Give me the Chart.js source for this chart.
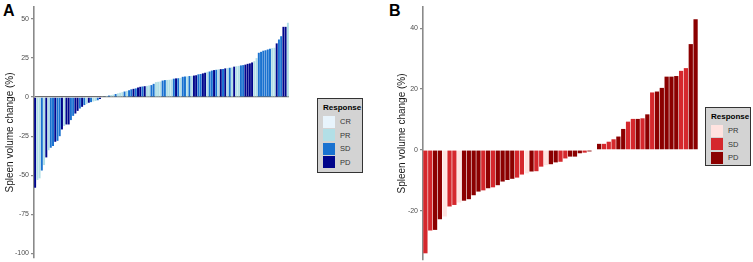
<!DOCTYPE html>
<html>
<head>
<meta charset="utf-8">
<script src="https://cdn.jsdelivr.net/npm/chart.js@4.4.0/dist/chart.umd.min.js"></script>
<style>
  body { margin: 0; background: #fff; width: 753px; height: 262px; position: relative; overflow: hidden;
         font-family: "Liberation Sans", Arial, sans-serif; }
  canvas { position: absolute; top: 0; }
  #chartA { left: 0; }
  #chartB { left: 392px; }
  .tag { position: absolute; font-weight: bold; font-size: 16px; line-height: 16px; color: #000; }
  .legend { position: absolute; background: #d3d3d3; border: 1px solid #333; box-sizing: border-box; padding: 4px 4px 0 5px; }
  .legend .ttl { font-weight: bold; font-size: 8px; line-height: 10px; color: #000; margin-bottom: 2px; }
  .legend .item { height: 13.5px; display: flex; align-items: center; font-size: 7.5px; color: #333; }
  .legend .key { width: 12px; height: 12px; margin-right: 5px; }
</style>
</head>
<body>
<div class="tag" style="left:3px;top:3px;">A</div>
<div class="tag" style="left:389px;top:3px;">B</div>
<canvas id="chartA" width="292" height="262"></canvas>
<canvas id="chartB" width="310" height="262"></canvas>
<div class="legend" id="legendA" style="left:317px;top:98px;width:46px;height:75px;"></div>
<div class="legend" id="legendB" style="left:705px;top:107px;width:46px;height:59px;"></div>
<script>
// ---- panel A data (sorted waterfall) ----
var valuesA = [
  -58, -53, -52, -47, -43.5, -38.6, -34, -32.4, -31.3, -28.6,
  -28, -25, -20.7, -18.5, -17.5, -17.5, -14.7, -12, -10.5, -8.8,
  -7.3, -6.2, -5.1, -4.4, -3.6, -3.2, -2.8, -2.5, -2, -1.2,
  0.3, 0.5, 0.8, 1.0, 1.3, 1.6, 2.0, 2.4, 2.8, 3.2,
  3.6, 4.0, 4.4, 5.0, 5.3, 5.6, 6.2, 6.6, 6.8, 7.0,
  7.2, 7.5, 7.7,
  8.5, 9.6, 9.8, 10, 10.6, 10.9, 11.0, 11.1, 11.3, 11.8,
  12.0, 12.1, 12.3, 13.0, 13.2, 13.3, 13.5, 13.6, 13.8, 14.0,
  14.6, 14.8, 15.2, 15.6, 16.2, 16.4, 17.0, 17.3, 17.5, 17.8,
  17.9, 18.0, 18.4, 18.6, 18.8, 19.0, 19.5, 19.8, 20.0, 20.3,
  20.5, 20.8, 21.3, 21.6, 22.2, 23.0, 25.0, 28.4, 29.0, 29.7,
  30.0, 30.5, 31.0, 31.4, 31.6, 34.4, 36.9, 39.0, 45, 45,
  47.6
];
var responseA = [
  'PD','PR','PR','SD','PR','PD','PR','SD','SD','PD',
  'SD','SD','PD','PR','PD','PD','SD','SD','PD','PD',
  'SD','PD','SD','PR','PD','SD','PR','PR','SD','PD',
  'PR','SD','PR','SD','PR','PR','SD','PR','PR','PR',
  'SD','PR','SD','SD','PD','SD','PD','PD','SD','PD',
  'PR','PR','SD',
  'SD','PR','PR','PR','SD','SD','PR','PR','PR','SD',
  'PD','SD','PR','SD','SD','PR','SD','PR','PD','PD',
  'SD','SD','PD','PD','PR','SD','SD','PD','SD','PR',
  'PD','SD','PD','PR','SD','PR','PD','PR','PR','SD',
  'SD','PD','PD','PD','PD','PR','PR','SD','SD','SD',
  'SD','SD','SD','PR','PR','PD','SD','SD','PD','PD',
  'PR'
];
var ticksA = [50, 25, 0, -25, -50, -75, -100];
var levelsA = ['CR', 'PR', 'SD', 'PD'];
var colorsA = { CR: '#e8f4fc', PR: '#b2dfe6', SD: '#1a72d0', PD: '#00058b' };

// ---- panel B data ----
var valuesB = [
  -34, -26.5, -26.3, -22.8, -21.9, -18.6, -18.1, -17.3, -16.7, -16.2,
  -14.9, -13.7, -13.3, -12.6, -12.3, -11.6, -10.4, -9.9, -9.5, -9.1,
  -8.1, -7.7, -7.1, -7.0, -5.5, -5.0, -4.7, -4.1, -3.9, -2.8,
  -2.2, -2.2, -1.1, -0.9, -0.5, -0.2, 2.0, 2.0, 2.7, 3.5,
  4.4, 6.9, 9.3, 10.2, 10.2, 10.4, 11.7, 18.9, 19.2, 20.4,
  24.1, 24.1, 24.3, 26.0, 26.9, 34.8, 43.0
];
var responseB = [
  'SD','SD','PD','PD','PR','SD','SD','PR','PD','PD',
  'PD','PD','SD','PD','SD','PD','PD','PD','PD','SD',
  'SD','PR','PD','SD','SD','PR','PD','PD','SD','SD',
  'PD','PD','PD','SD','PD','PR','PD','SD','SD','SD',
  'PD','PD','SD','SD','PD','SD','PD','SD','PD','PD',
  'PD','PD','PD','SD','SD','PD','PD'
];
var ticksB = [40, 20, 0, -20];
var levelsB = ['PR', 'SD', 'PD'];
var colorsB = { PR: '#ffe3e0', SD: '#d5282d', PD: '#8b0000' };

function buildLegend(id, levels, colors) {
  var html = '<div class="ttl">Response</div>';
  levels.forEach(function (lv) {
    html += '<div class="item"><span class="key" style="background:' + colors[lv] + '"></span>' + lv + '</div>';
  });
  document.getElementById(id).innerHTML = html;
}

function makeChart(canvasId, values, responses, colors, tickVals, yMin, yMax, axisWidth, zeroLine, pad) {
  var labels = values.map(function (v, i) { return i + 1; });
  return new Chart(document.getElementById(canvasId), {
    type: 'bar',
    data: {
      labels: labels,
      datasets: [{
        data: values,
        backgroundColor: responses.map(function (r) { return colors[r]; }),
        borderWidth: 0,
        barPercentage: 0.88,
        categoryPercentage: 1.0
      }]
    },
    options: {
      responsive: false,
      animation: false,
      layout: { padding: pad },
      plugins: { legend: { display: false }, tooltip: { enabled: false } },
      scales: {
        x: { display: false, offset: true },
        y: {
          min: yMin,
          max: yMax,
          afterBuildTicks: function (scale) {
            scale.ticks = tickVals.map(function (v) { return { value: v }; });
          },
          afterFit: function (scale) {
            scale.width = axisWidth;
            // keep the plot box at the layout padding, not the label overflow
            scale.paddingTop = 0;
            scale.paddingBottom = 0;
          },
          border: { display: true, color: '#8a8a8a', width: 1.6 },
          grid: {
            drawTicks: true,
            tickLength: 3,
            tickColor: '#8a8a8a',
            lineWidth: 1.3,
            color: function (ctx) {
              return (zeroLine && ctx.tick && ctx.tick.value === 0) ? '#6e6e6e' : 'rgba(0,0,0,0)';
            }
          },
          ticks: {
            padding: 2,
            color: '#4d4d4d',
            font: { family: 'Liberation Sans', size: 7 }
          },
          title: {
            display: true,
            text: 'Spleen volume change (%)',
            color: '#1a1a1a',
            padding: { top: 4, bottom: 0 },
            font: { family: 'Liberation Sans', size: 10 }
          }
        }
      }
    }
  });
}

buildLegend('legendA', levelsA, colorsA);
buildLegend('legendB', levelsB, colorsB);
makeChart('chartA', valuesA, responseA, colorsA, ticksA, -103, 57.7, 34, true, { top: 7, bottom: 4, left: 0, right: 3 });
makeChart('chartB', valuesB, responseB, colorsB, ticksB, -36.2, 47, 31, false, { top: 7, bottom: 2, left: 0, right: 4 });
</script>
</body>
</html>
